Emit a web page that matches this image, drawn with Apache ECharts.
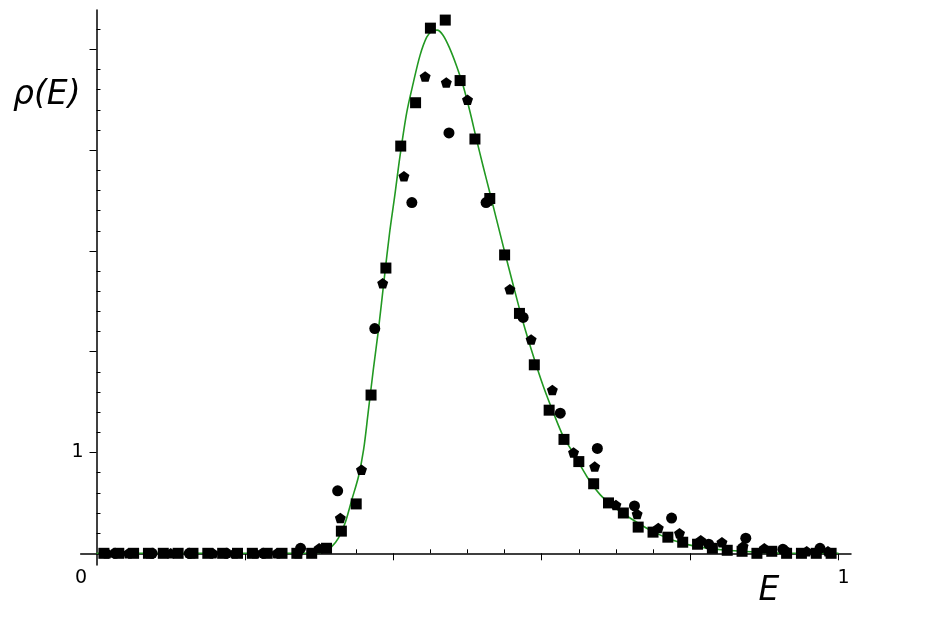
<!DOCTYPE html>
<html lang="en">
<head>
    <meta charset="UTF-8">
    <title>rho(E)</title>
    <script src="https://cdn.jsdelivr.net/npm/echarts@6/dist/echarts.min.js"></script>
    <style>
        html, body { margin: 0; padding: 0; background: #fff; }
        #main { width: 952px; height: 620px; }
    </style>
</head>
<body>
<div id="main"></div>
<script>
    // squares: E = 0.01, 0.03, ... 0.99
    var squareE = [0.01, 0.03, 0.05, 0.07, 0.09, 0.11, 0.13, 0.15, 0.17, 0.19,
        0.21, 0.23, 0.25, 0.27, 0.29, 0.31, 0.33, 0.35, 0.37, 0.39,
        0.41, 0.43, 0.45, 0.47, 0.49, 0.51, 0.53, 0.55, 0.57, 0.59,
        0.61, 0.63, 0.65, 0.67, 0.69, 0.71, 0.73, 0.75, 0.77, 0.79,
        0.81, 0.83, 0.85, 0.87, 0.89, 0.91, 0.93, 0.95, 0.97, 0.99];
    var squareRho = [0, 0, 0, 0, 0, 0, 0, 0, 0, 0,
        0, 0, 0, 0, 0, 0.05, 0.22, 0.49, 1.57, 2.83,
        4.04, 4.47, 5.21, 5.29, 4.69, 4.11, 3.52, 2.96, 2.38, 1.87,
        1.42, 1.13, 0.91, 0.69, 0.50, 0.40, 0.26, 0.21, 0.16, 0.11,
        0.09, 0.05, 0.03, 0.02, 0, 0.02, 0, 0, 0, 0];

    // circles: E = 0.025, 0.075, ... 0.975
    var circleE = [0.025, 0.075, 0.125, 0.175, 0.225, 0.275, 0.325, 0.375, 0.425, 0.475,
        0.525, 0.575, 0.625, 0.675, 0.725, 0.775, 0.825, 0.875, 0.925, 0.975];
    var circleRho = [0, 0, 0, 0, 0, 0.05, 0.62, 2.23, 3.48, 4.17,
        3.48, 2.34, 1.39, 1.04, 0.47, 0.35, 0.09, 0.15, 0.04, 0.05];

    // pentagons: 35 bins
    var pentE = [0.0143, 0.0429, 0.0714, 0.1, 0.1286, 0.1571, 0.1857, 0.2143, 0.2429, 0.2714,
        0.3, 0.3286, 0.3571, 0.3857, 0.4143, 0.4429, 0.4714, 0.5, 0.5286, 0.5571,
        0.5857, 0.6143, 0.6429, 0.6714, 0.7, 0.7286, 0.7571, 0.7857, 0.8143, 0.8429,
        0.8714, 0.9, 0.9286, 0.9571, 0.9857];
    var pentRho = [0, 0, 0, 0, 0, 0, 0, 0, 0, 0,
        0.05, 0.35, 0.83, 2.68, 3.74, 4.73, 4.67, 4.50, 3.5, 2.62,
        2.12, 1.62, 1.0, 0.86, 0.48, 0.39, 0.25, 0.20, 0.13, 0.11,
        0.07, 0.05, 0.03, 0.02, 0.02];

    // green curve
    var curveE = [0, 0.1, 0.2, 0.26, 0.28, 0.295, 0.306, 0.317, 0.326, 0.335,
        0.344, 0.353, 0.36, 0.366, 0.373, 0.38, 0.388, 0.395, 0.402, 0.409,
        0.418, 0.427, 0.436, 0.445, 0.452, 0.459, 0.467, 0.476, 0.485, 0.494,
        0.503, 0.512, 0.521, 0.53, 0.548, 0.562, 0.575, 0.589, 0.602, 0.616,
        0.629, 0.643, 0.661, 0.679, 0.699, 0.719, 0.746, 0.777, 0.809, 0.845,
        0.881, 0.935, 1.0];
    var curveRho = [0, 0, 0, 0, 0.001, 0.005, 0.016, 0.066, 0.15, 0.30,
        0.53, 0.76, 1.03, 1.39, 1.82, 2.22, 2.74, 3.18, 3.55, 3.94,
        4.37, 4.67, 4.94, 5.12, 5.18, 5.19, 5.14, 5.01, 4.84, 4.64,
        4.39, 4.11, 3.84, 3.58, 3.05, 2.65, 2.29, 1.95, 1.66, 1.39,
        1.16, 0.99, 0.76, 0.58, 0.45, 0.35, 0.23, 0.13, 0.066, 0.033,
        0.016, 0, 0];

    var xMinorTicks = [0.05, 0.1, 0.15, 0.25, 0.3, 0.35, 0.45, 0.5, 0.55, 0.65, 0.7, 0.75, 0.85, 0.9, 0.95];
    var xMajorTicks = [0.2, 0.4, 0.6, 0.8, 1.0];
    var yMinorTicks = [0.2, 0.4, 0.6, 0.8, 1.2, 1.4, 1.6, 1.8, 2.2, 2.4, 2.6, 2.8,
        3.2, 3.4, 3.6, 3.8, 4.2, 4.4, 4.6, 4.8, 5.2];
    var yMajorTicks = [1, 2, 3, 4, 5];
    var xLabels = [0, 1];
    var yLabels = [1];

    function pairs(xs, ys) {
        var out = [];
        for (var i = 0; i < xs.length; i++) out.push([xs[i], ys[i]]);
        return out;
    }

    var pentagon = 'path://M0,-1L0.951,-0.309L0.588,0.809L-0.588,0.809L-0.951,-0.309Z';
    var font = 'DejaVu Sans';

    var chart = echarts.init(document.getElementById('main'));

    var xBase = {
        type: 'value', min: -0.0213, max: 1.0168,
        splitLine: { show: false },
        axisLine: { onZero: true, lineStyle: { color: '#000', width: 1.5 } }
    };
    var yBase = {
        type: 'value', min: -0.116, max: 5.39,
        splitLine: { show: false },
        axisLine: { onZero: true, lineStyle: { color: '#000', width: 1.5 } }
    };

    var option = {
        animation: false,
        backgroundColor: '#fff',
        grid: { left: 80.7, right: 101, top: 10, bottom: 55 },
        xAxis: [
            Object.assign({}, xBase, {
                name: 'E',
                nameLocation: 'end',
                nameGap: -82,
                nameTextStyle: { fontFamily: font, fontStyle: 'italic', fontSize: 33, color: '#000',
                    align: 'center', verticalAlign: 'top', padding: [22, 0, 0, 0] },
                axisTick: { inside: true, length: 4, customValues: xMinorTicks, lineStyle: { color: '#000' } },
                axisLabel: {
                    customValues: xLabels, margin: 4, color: '#000', fontFamily: font, fontSize: 19,
                    formatter: function (v) { return v === 0 ? '{z|0}' : '{o|1}'; },
                    rich: {
                        z: { fontFamily: font, fontSize: 19, color: '#000', padding: [0, 31, 0, 0] },
                        o: { fontFamily: font, fontSize: 19, color: '#000', padding: [0, 0, 0, 10] }
                    }
                }
            }),
            Object.assign({}, xBase, {
                axisLine: { show: false, onZero: true },
                axisTick: { inside: true, length: 7, customValues: xMajorTicks, lineStyle: { color: '#000' } },
                axisLabel: { show: false }
            })
        ],
        yAxis: [
            Object.assign({}, yBase, {
                name: 'ρ(E)',
                nameLocation: 'end',
                nameGap: -85,
                nameTextStyle: { fontFamily: font, fontStyle: 'italic', fontSize: 33, color: '#000',
                    align: 'right', verticalAlign: 'middle', padding: [0, 16, 0, 0] },
                axisTick: { inside: true, length: 4, customValues: yMinorTicks, lineStyle: { color: '#000' } },
                axisLabel: { customValues: yLabels, margin: -3, color: '#000', fontFamily: font, fontSize: 19 }
            }),
            Object.assign({}, yBase, {
                axisLine: { show: false, onZero: true },
                axisTick: { inside: true, length: 7, customValues: yMajorTicks, lineStyle: { color: '#000' } },
                axisLabel: { show: false }
            })
        ],
        series: [
            {
                type: 'line', data: pairs(curveE, curveRho),
                smooth: 0.3, showSymbol: false, symbol: 'none',
                lineStyle: { color: '#229922', width: 1.6 }, z: 1
            },
            {
                type: 'scatter', data: pairs(circleE, circleRho), symbol: 'circle', symbolSize: 11,
                itemStyle: { color: '#000', opacity: 1 }, z: 2
            },
            {
                type: 'scatter', data: pairs(pentE, pentRho), symbol: pentagon, symbolSize: [11, 10.5],
                itemStyle: { color: '#000', opacity: 1 }, z: 3
            },
            {
                type: 'scatter', data: pairs(squareE, squareRho), symbol: 'rect', symbolSize: 11,
                itemStyle: { color: '#000', opacity: 1 }, z: 4
            }
        ]
    };

    chart.setOption(option);
</script>
</body>
</html>
